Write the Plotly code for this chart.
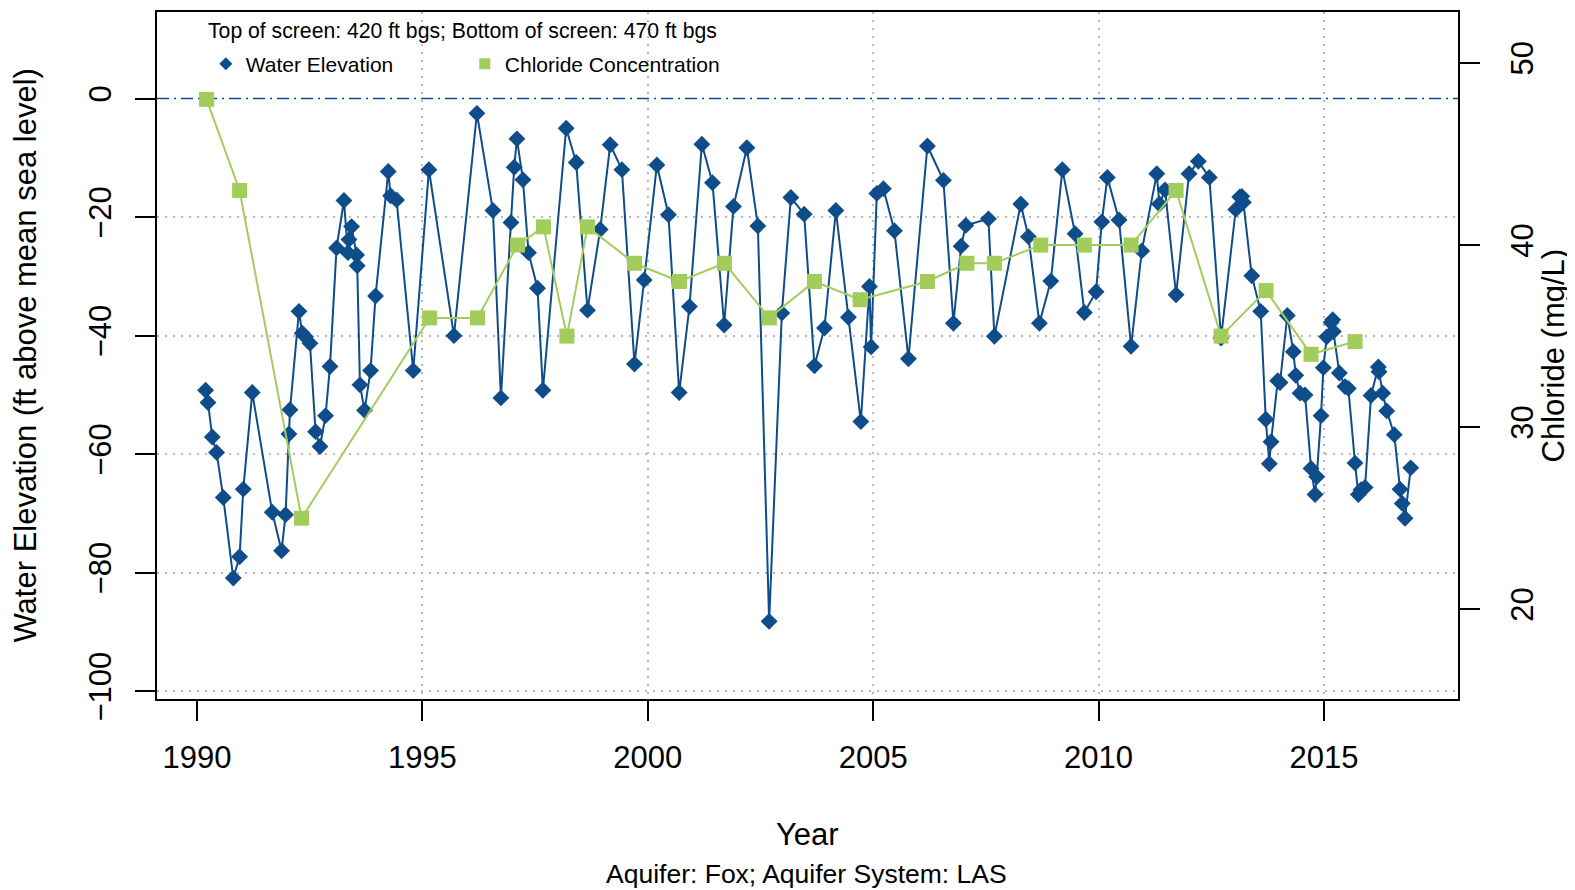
import plotly.graph_objects as go

# ---- data ----
water_year = [
    1990.191, 1990.244, 1990.339, 1990.435, 1990.583, 1990.805, 1990.945, 1991.027, 1991.226,
    1991.670, 1991.876, 1991.965, 1992.040, 1992.063, 1992.262, 1992.335, 1992.408, 1992.506,
    1992.630, 1992.728, 1992.852, 1992.950, 1993.096, 1993.260, 1993.349, 1993.371, 1993.429,
    1993.540, 1993.555, 1993.615, 1993.717, 1993.850, 1993.961, 1994.243, 1994.294, 1994.427,
    1994.797, 1995.145, 1995.700, 1996.210, 1996.565, 1996.742, 1996.964, 1997.037, 1997.097,
    1997.230, 1997.354, 1997.554, 1997.673, 1998.190, 1998.412, 1998.663, 1998.944, 1999.166,
    1999.426, 1999.705, 1999.920, 2000.202, 2000.459, 2000.696, 2000.925, 2001.200, 2001.435,
    2001.694, 2001.901, 2002.198, 2002.442, 2002.692, 2002.974, 2003.174, 2003.469, 2003.697,
    2003.919, 2004.172, 2004.451, 2004.726, 2004.917, 2004.954, 2005.081, 2005.227, 2005.471,
    2005.782, 2006.203, 2006.558, 2006.780, 2006.950, 2007.055, 2007.556, 2007.689, 2008.274,
    2008.443, 2008.687, 2008.940, 2009.197, 2009.479, 2009.685, 2009.944, 2010.071, 2010.195,
    2010.454, 2010.721, 2010.958, 2011.291, 2011.349, 2011.475, 2011.719, 2012.007, 2012.213,
    2012.457, 2012.717, 2013.043, 2013.131, 2013.176, 2013.211, 2013.398, 2013.597, 2013.708,
    2013.788, 2013.826, 2013.974, 2014.025, 2014.187, 2014.320, 2014.374, 2014.469, 2014.580,
    2014.713, 2014.802, 2014.839, 2014.935, 2014.986, 2015.061, 2015.157, 2015.194, 2015.208,
    2015.341, 2015.467, 2015.540, 2015.689, 2015.762, 2015.822, 2015.911, 2016.044, 2016.206,
    2016.221, 2016.303, 2016.392, 2016.560, 2016.687, 2016.737, 2016.797, 2016.924,
]
water_elev = [
    -49.2, -51.3, -57.1, -59.7, -67.3, -80.9, -77.3, -65.9, -49.6,
    -69.8, -76.3, -70.2, -56.6, -52.5, -35.9, -39.6, -40.2, -41.3,
    -56.2, -58.7, -53.5, -45.2, -25.2, -17.2, -26.0, -23.8, -21.6,
    -26.4, -28.2, -48.3, -52.6, -45.9, -33.3, -12.3, -16.4, -17.1,
    -45.9, -12.0, -40.0, -2.5, -18.9, -50.5, -20.9, -11.6, -6.8,
    -13.7, -26.0, -32.0, -49.2, -5.0, -10.8, -35.7, -22.1, -7.8,
    -12.0, -44.8, -30.6, -11.2, -19.6, -49.6, -35.1, -7.7, -14.2,
    -38.2, -18.2, -8.3, -21.5, -88.2, -36.2, -16.7, -19.5, -45.1,
    -38.7, -18.9, -36.9, -54.5, -31.7, -41.9, -16.0, -15.2, -22.3,
    -43.9, -8.0, -13.8, -37.9, -24.9, -21.4, -20.3, -40.1, -17.8,
    -23.3, -37.9, -30.8, -12.0, -22.8, -36.1, -32.6, -20.8, -13.3,
    -20.5, -41.8, -25.7, -12.7, -17.8, -15.4, -33.1, -12.7, -10.6,
    -13.3, -40.4, -18.7, -16.6, -16.5, -17.5, -29.9, -35.9, -54.1,
    -61.6, -57.9, -47.6, -47.9, -36.6, -42.7, -46.7, -49.7, -50.0,
    -62.4, -66.8, -63.8, -53.5, -45.4, -40.2, -37.8, -37.3, -39.3,
    -46.3, -48.6, -48.9, -61.5, -66.8, -66.0, -65.6, -50.1, -45.3,
    -46.1, -49.7, -52.7, -56.7, -65.9, -68.3, -70.8, -62.3,
]
chloride_year = [
    1990.213, 1990.945, 1992.320, 1995.159, 1996.223, 1997.110, 1997.687, 1998.206, 1998.663,
    1999.705, 2000.703, 2001.701, 2002.699, 2003.697, 2004.711, 2006.203, 2007.077, 2007.689,
    2008.718, 2009.685, 2010.721, 2011.719, 2012.717, 2013.715, 2014.713, 2015.689,
]
chloride_mgl = [
    48, 43, 25, 36, 36, 40, 41, 35, 41,
    39, 38, 39, 36, 38, 37, 38, 39, 39,
    40, 40, 40, 43, 35, 37.5, 34, 34.7,
]
x_ticks = [1990, 1995, 2000, 2005, 2010, 2015]
x_grid = [1995, 2000, 2005, 2010, 2015]
y_ticks = [-100, -80, -60, -40, -20, 0]
y_grid = [-100, -80, -60, -40, -20]
y2_ticks = [20, 30, 40, 50]
reference_level = 0

header_text = "Top of screen: 420 ft bgs; Bottom of screen: 470 ft bgs"
caption_text = "Aquifer: Fox; Aquifer System: LAS"

BLUE = "#0f4c8a"
GREEN = "#a3cd5b"
GRID = "#b8b8b8"
FONT = "Liberation Sans, Arial, Helvetica, sans-serif"

fig = go.Figure()
fig.add_trace(go.Scatter(
    x=water_year, y=water_elev, mode="lines+markers", name="Water Elevation",
    line=dict(color=BLUE, width=2), marker=dict(symbol="diamond", size=13, color=BLUE),
    showlegend=False, yaxis="y",
))
fig.add_trace(go.Scatter(
    x=chloride_year, y=chloride_mgl, mode="lines+markers", name="Chloride Concentration",
    line=dict(color=GREEN, width=2), marker=dict(symbol="square", size=15, color=GREEN),
    showlegend=False, yaxis="y2",
))
# legend-only entries (marker only, like the original legend)
fig.add_trace(go.Scatter(x=[None], y=[None], mode="markers", name="Water Elevation",
                         marker=dict(symbol="diamond", size=10, color=BLUE)))
fig.add_trace(go.Scatter(x=[None], y=[None], mode="markers", name="Chloride Concentration",
                         marker=dict(symbol="square", size=11, color=GREEN)))

fig.add_hline(y=reference_level, line=dict(color=BLUE, width=1.5, dash="12px,5px,2px,5px"),
              layer="below")

axis_common = dict(
    showline=True, linecolor="black", linewidth=1.5,
    ticks="outside", ticklen=20, tickwidth=1.5, tickcolor="black",
    tickfont=dict(family=FONT, size=31, color="black"),
    zeroline=False, showgrid=False, automargin=False,
)
grid_common = dict(showgrid=True, gridcolor=GRID, griddash="2px,6px", gridwidth=1.5, ticks="")

# the page body adds an 8px offset, so the figure is 8px smaller and margins compensate
fig.update_layout(
    width=1567, height=882,
    margin=dict(l=149, r=117, t=4, b=191, autoexpand=False),
    paper_bgcolor="white", plot_bgcolor="white",
    font=dict(family=FONT, color="black"),
    xaxis=dict(
        range=[1989.113, 2017.973], tickmode="array", tickvals=x_ticks, mirror=True,
        ticklabelstandoff=10,
        minor=dict(tickmode="array", tickvals=x_grid, **grid_common),
        **axis_common,
    ),
    yaxis=dict(
        range=[-101.3, 14.6], tickmode="array", tickvals=y_ticks, tickangle=-90, mirror=True,
        ticklabelstandoff=12,
        minor=dict(tickmode="array", tickvals=y_grid, **grid_common),
        **axis_common,
    ),
    yaxis2=dict(
        range=[15.07, 52.80], tickmode="array", tickvals=y2_ticks, tickangle=-90,
        overlaying="y", side="right", ticklabelstandoff=16,
        **axis_common,
    ),
    legend=dict(
        orientation="h", x=0.0375, xanchor="left", y=0.924, yanchor="middle",
        font=dict(family=FONT, size=21, color="black"), bgcolor="rgba(0,0,0,0)",
        entrywidth=214, entrywidthmode="pixels", itemwidth=30,
    ),
    annotations=[
        dict(text=header_text, xref="paper", yref="paper", x=0.2345, y=0.9724,
             xanchor="center", yanchor="middle", showarrow=False,
             font=dict(family=FONT, size=21.2, color="black")),
        dict(text="Year", xref="paper", yref="paper", x=0.5, y=0, yshift=-135,
             xanchor="center", yanchor="middle", showarrow=False,
             font=dict(family=FONT, size=31, color="black")),
        dict(text=caption_text, xref="paper", yref="paper", x=0.4996, y=0, yshift=-175,
             xanchor="center", yanchor="middle", showarrow=False,
             font=dict(family=FONT, size=26.5, color="black")),
        dict(text="Water Elevation (ft above mean sea level)", xref="paper", yref="paper",
             x=0, xshift=-132, y=0.5, xanchor="center", yanchor="middle", textangle=-90,
             showarrow=False, font=dict(family=FONT, size=31, color="black")),
        dict(text="Chloride (mg/L)", xref="paper", yref="paper",
             x=1, xshift=95, y=0.5, xanchor="center", yanchor="middle", textangle=-90,
             showarrow=False, font=dict(family=FONT, size=31, color="black")),
    ],
)

fig.write_html("out.html")
